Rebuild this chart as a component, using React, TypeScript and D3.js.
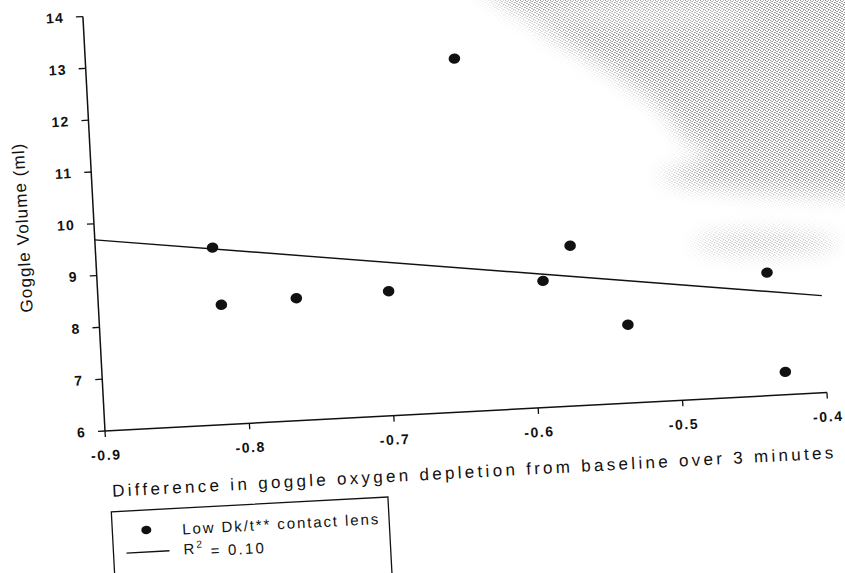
import React from 'react';
import * as d3 from 'd3';

// Data read from the (slightly tilted) scanned chart
const xValues = [-0.819, -0.815, -0.763, -0.699, -0.645, -0.592, -0.572, -0.535, -0.437, -0.428];
const yValues = [9.42, 8.31, 8.36, 8.4, 12.81, 8.44, 9.09, 7.51, 8.37, 6.44];
const xTicks = [-0.9, -0.8, -0.7, -0.6, -0.5, -0.4];
const yTicks = [6, 7, 8, 9, 10, 11, 12, 13, 14];
const trendX = [-0.9, -0.4];
const trendY = [9.69, 7.87];
const xTitle = 'Difference in goggle oxygen depletion from baseline over 3 minutes';
const yTitle = 'Goggle Volume (ml)';
const legendSeries = 'Low Dk/t** contact lens';
const legendFitParts = ['R', '2', ' = 0.10'];

const FONT = "'Liberation Sans', Arial, Helvetica, sans-serif";

export default function App() {
  const W = 845;
  const H = 573;
  const originX = 105;
  const originY = 431;
  const tilt = -3.05;
  const plotW = 723;
  const plotH = 415;

  const x = d3.scaleLinear().domain([-0.9, -0.4]).range([0, plotW]);
  const y = d3.scaleLinear().domain([6, 14]).range([0, -plotH]);

  const trendPath = d3
    .line<number>()
    .x((_, i) => x(trendX[i]))
    .y((d) => y(d))(trendY);

  const ink = '#111';

  return (
    <svg
      width={W}
      height={H}
      viewBox={`0 0 ${W} ${H}`}
      style={{ position: 'absolute', left: 0, top: 0, background: '#fff' }}
      fontFamily={FONT}
    >
      <defs>
        <pattern id="scanDots" width="5" height="5" patternUnits="userSpaceOnUse">
          <rect x="0" y="0" width="1" height="1" fill="#8c8c8c" />
          <rect x="2" y="1" width="1" height="1" fill="#9a9a9a" />
          <rect x="4" y="2" width="1" height="1" fill="#8c8c8c" />
          <rect x="1" y="3" width="1" height="1" fill="#a0a0a0" />
          <rect x="3" y="4" width="1" height="1" fill="#8c8c8c" />
          <rect x="3" y="0" width="1" height="1" fill="#b0b0b0" />
          <rect x="0" y="2" width="1" height="1" fill="#b0b0b0" />
          <rect x="2" y="3" width="1" height="1" fill="#b4b4b4" />
          <rect x="4" y="4" width="1" height="1" fill="#b4b4b4" />
          <rect x="1" y="1" width="1" height="1" fill="#b8b8b8" />
        </pattern>
        <filter id="softEdge" x="-20%" y="-20%" width="140%" height="140%">
          <feGaussianBlur stdDeviation="10" />
        </filter>
        <mask id="scanMask" maskUnits="userSpaceOnUse" x="0" y="0" width={W} height={H}>
          <g filter="url(#softEdge)">
            <path
              d="M470 -20 L880 -20 L880 196 L800 194 L740 190 L690 184 L655 176 L700 163 L712 152 L682 138 L672 118 L655 102 L610 70 L556 38 Z"
              fill="#fff"
            />
            <ellipse cx={765} cy={243} rx={72} ry={10} fill="#bbb" />
            <ellipse cx={640} cy={14} rx={120} ry={14} fill="#999" />
          </g>
        </mask>
      </defs>
      <rect x={0} y={0} width={W} height={H} fill="#fff" />
      {/* scan bleed-through texture */}
      <rect x={0} y={0} width={W} height={H} fill="url(#scanDots)" mask="url(#scanMask)" />

      <g transform={`translate(${originX},${originY}) rotate(${tilt})`}>
        {/* axes */}
        <line x1={0} y1={0} x2={0} y2={-plotH} stroke={ink} strokeWidth={1.5} />
        <line x1={0} y1={0} x2={plotW} y2={0} stroke={ink} strokeWidth={1.5} />

        {yTicks.map((t) => (
          <g key={`y${t}`} transform={`translate(0,${y(t)})`}>
            <line x1={-7} x2={0} y1={0} y2={0} stroke={ink} strokeWidth={1.3} />
            <text
              x={-19}
              y={0}
              dy="0.36em"
              textAnchor="end"
              fontSize={14}
              fontWeight="bold"
              letterSpacing={1.2}
              fill={ink}
            >
              {t}
            </text>
          </g>
        ))}

        {xTicks.map((t) => (
          <g key={`x${t}`} transform={`translate(${x(t)},0)`}>
            <line x1={0} x2={0} y1={0} y2={6} stroke={ink} strokeWidth={1.3} />
            <text
              x={0}
              y={24}
              dy="0.36em"
              textAnchor="middle"
              fontSize={14}
              fontWeight="bold"
              letterSpacing={1.6}
              fill={ink}
            >
              {t.toFixed(1)}
            </text>
          </g>
        ))}

        {/* axis titles */}
        <text
          x={4}
          y={60}
          dy="0.36em"
          fontSize={17}
          fill={ink}
          textLength={722}
          lengthAdjust="spacing"
        >
          {xTitle}
        </text>
        <text
          transform={`translate(-72,${-plotH / 2}) rotate(-90)`}
          textAnchor="middle"
          dy="0.36em"
          fontSize={17}
          letterSpacing={1.1}
          fill={ink}
        >
          {yTitle}
        </text>

        {/* trend line */}
        <path d={trendPath || ''} fill="none" stroke={ink} strokeWidth={1.4} />

        {/* points */}
        {xValues.map((xv, i) => (
          <ellipse key={i} cx={x(xv)} cy={y(yValues[i])} rx={5.8} ry={5.2} fill={ink} />
        ))}

        {/* legend */}
        <rect x={2} y={81} width={277} height={90} fill="none" stroke={ink} strokeWidth={1.3} />
        <ellipse cx={36} cy={101} rx={5} ry={4.3} fill={ink} />
        <text x={72} y={102} dy="0.36em" fontSize={15} letterSpacing={1.9} fill={ink}>
          {legendSeries}
        </text>
        <line x1={15} x2={58} y1={123} y2={123} stroke={ink} strokeWidth={1.3} />
        <text x={72} y={122} dy="0.36em" fontSize={15} letterSpacing={2.2} fill={ink}>
          <tspan>{legendFitParts[0]}</tspan>
          <tspan fontSize={10} dy="-0.6em">{legendFitParts[1]}</tspan>
          <tspan dy="0.6em">{legendFitParts[2]}</tspan>
        </text>
      </g>
    </svg>
  );
}
